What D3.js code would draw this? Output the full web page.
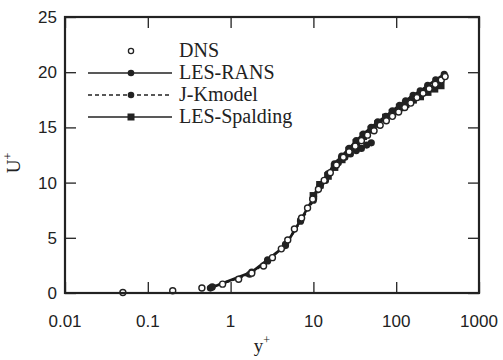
<!DOCTYPE html>
<html><head><meta charset="utf-8">
<script src="https://cdn.jsdelivr.net/npm/d3@7"></script>
<style>body{margin:0;background:#fff}</style>
</head><body>
<svg id="c" width="503" height="360"></svg>
<script>
const xTicks = [0.01, 0.1, 1, 10, 100, 1000];
const xTickLabels = ["0.01", "0.1", "1", "10", "100", "1000"];
const yTicks = [0, 5, 10, 15, 20, 25];

const dnsY = [0.05,0.2,0.45,0.8,1.25,1.8,2.5,3.2,4.1,4.9,5.9,7.2,8.5,9.8,11.5,13.5,16,19,23,27,32,38,45,54,64,76,90,107,127,150,178,211,250,296,350,390];
const dnsU = [0.05,0.2,0.45,0.8,1.25,1.8,2.45,3.2,4.0,4.8,5.8,6.8,7.7,8.5,9.4,10.2,10.9,11.6,12.3,12.8,13.3,13.8,14.3,14.7,15.2,15.6,16.0,16.4,16.8,17.2,17.7,18.1,18.5,18.9,19.3,19.6];

const lesRansY = [0.57,1.8,2.8,4.6,7,10,12,15,18,22,27,33,40,50,60,75,90,110,130,160,195,240,300,380];
const lesRansU = [0.45,1.9,3.0,4.3,6.6,8.6,9.7,10.8,11.7,12.4,13.1,13.8,14.4,15.0,15.5,16.0,16.5,17.0,17.4,17.9,18.3,18.8,19.3,19.8];

const jkY = [0.6,1.7,2.8,4.6,7,10,14,20,24,28,33,38,44,50];
const jkU = [0.55,1.7,2.9,4.4,6.5,8.4,10.2,11.8,12.3,12.6,12.9,13.1,13.4,13.6];

const spalY = [10,12,15,18,22,27,33,40,50,60,75,90,110,130,160,195,240,290,345];
const spalU = [8.8,9.8,10.6,11.4,12.1,12.9,13.6,14.2,14.8,15.3,15.9,16.3,16.8,17.1,17.5,17.8,18.2,18.5,18.8];

const legendNames = ["DNS", "LES-RANS", "J-Kmodel", "LES-Spalding"];

const svg = d3.select("#c");
const L = 65, R = 479, T = 17, B = 293;
const x = d3.scaleLog().domain([0.01, 1000]).range([L, R]);
const y = d3.scaleLinear().domain([0, 25]).range([B, T]);

const zip = (a, b) => a.map((v, i) => [v, b[i]]);
const line = d3.line().x(d => x(d[0])).y(d => y(d[1]));

// Lines
svg.append("path").attr("d", line(zip(lesRansY, lesRansU))).attr("fill","none").attr("stroke","#1a1a1a").attr("stroke-width",2.6);
svg.append("path").attr("d", line(zip(jkY, jkU))).attr("fill","none").attr("stroke","#1a1a1a").attr("stroke-width",2.4).attr("stroke-dasharray","4,3");
svg.append("path").attr("d", line(zip(spalY, spalU))).attr("fill","none").attr("stroke","#1a1a1a").attr("stroke-width",2.6);

// markers
svg.append("g").selectAll("circle").data(zip(lesRansY, lesRansU)).join("circle")
  .attr("cx", d => x(d[0])).attr("cy", d => y(d[1])).attr("r", 3.6).attr("fill", "#222");
svg.append("g").selectAll("circle").data(zip(jkY, jkU)).join("circle")
  .attr("cx", d => x(d[0])).attr("cy", d => y(d[1])).attr("r", 3.6).attr("fill", "#222");
svg.append("g").selectAll("rect").data(zip(spalY, spalU)).join("rect")
  .attr("x", d => x(d[0]) - 3.8).attr("y", d => y(d[1]) - 3.8).attr("width", 7.6).attr("height", 7.6).attr("fill", "#222");
svg.append("g").selectAll("circle").data(zip(dnsY, dnsU)).join("circle")
  .attr("cx", d => x(d[0])).attr("cy", d => y(d[1])).attr("r", 3).attr("fill", "#fff").attr("stroke", "#222").attr("stroke-width", 1.4);

// Axes (inside ticks)
const tl = 11;
svg.append("g").attr("transform", `translate(0,${B})`)
  .call(d3.axisBottom(x).tickValues(xTicks).tickSize(-tl).tickFormat(""))
  .call(g => g.select(".domain").remove());
svg.append("g").attr("transform", `translate(0,${T})`)
  .call(d3.axisTop(x).tickValues(xTicks).tickSize(-tl).tickFormat(""))
  .call(g => g.select(".domain").remove());
svg.append("g").attr("transform", `translate(${L},0)`)
  .call(d3.axisLeft(y).tickValues(yTicks).tickSize(-tl).tickFormat(""))
  .call(g => g.select(".domain").remove());
svg.append("g").attr("transform", `translate(${R},0)`)
  .call(d3.axisRight(y).tickValues(yTicks).tickSize(-tl).tickFormat(""))
  .call(g => g.select(".domain").remove());
svg.selectAll(".tick line").attr("stroke", "#222").attr("stroke-width", 1.3);

svg.append("rect").attr("x", L).attr("y", T).attr("width", R - L).attr("height", B - T)
  .attr("fill", "none").attr("stroke", "#222").attr("stroke-width", 2.2);

// tick labels
svg.append("g").selectAll("text").data(xTicks).join("text")
  .attr("x", d => x(d)).attr("y", 327).attr("text-anchor", "middle")
  .attr("font-family", "Liberation Sans, Arial, sans-serif").attr("font-size", 17).attr("fill", "#222")
  .text((d, i) => xTickLabels[i]);
svg.append("g").selectAll("text").data(yTicks).join("text")
  .attr("x", 57).attr("y", d => y(d) + 6).attr("text-anchor", "end")
  .attr("font-family", "Liberation Sans, Arial, sans-serif").attr("font-size", 17).attr("fill", "#222")
  .text(d => d);

// axis titles
const xt = svg.append("text").attr("x", 262).attr("y", 352).attr("text-anchor", "middle")
  .attr("font-family", "Liberation Serif, Times New Roman, serif").attr("font-size", 19).attr("fill", "#222");
xt.append("tspan").text("y");
xt.append("tspan").attr("font-size", 12).attr("dy", -8).text("+");
const yt = svg.append("text").attr("transform", "translate(20,163) rotate(-90)").attr("text-anchor", "middle")
  .attr("font-family", "Liberation Serif, Times New Roman, serif").attr("font-size", 19).attr("fill", "#222");
yt.append("tspan").text("U");
yt.append("tspan").attr("font-size", 12).attr("dy", -8).text("+");

// legend
const rows = [51, 73, 95, 117];
const lg = svg.append("g");
legendNames.forEach((name, i) => {
  const yy = rows[i];
  if (i > 0) {
    lg.append("line").attr("x1", 88).attr("x2", 172).attr("y1", yy).attr("y2", yy)
      .attr("stroke", "#222").attr("stroke-width", 1.6).attr("stroke-dasharray", i === 2 ? "4,3" : null);
  }
  if (i === 0) lg.append("circle").attr("cx", 131).attr("cy", yy).attr("r", 2.6).attr("fill", "#fff").attr("stroke", "#222").attr("stroke-width", 1.3);
  else if (i === 3) lg.append("rect").attr("x", 127.5).attr("y", yy - 3.5).attr("width", 7).attr("height", 7).attr("fill", "#222");
  else lg.append("circle").attr("cx", 131).attr("cy", yy).attr("r", 3.3).attr("fill", "#222");
  lg.append("text").attr("x", 179).attr("y", yy + 6).attr("font-family", "Liberation Serif, Times New Roman, serif")
    .attr("font-size", 20).attr("fill", "#222").text(name);
});
</script>
</body></html>
